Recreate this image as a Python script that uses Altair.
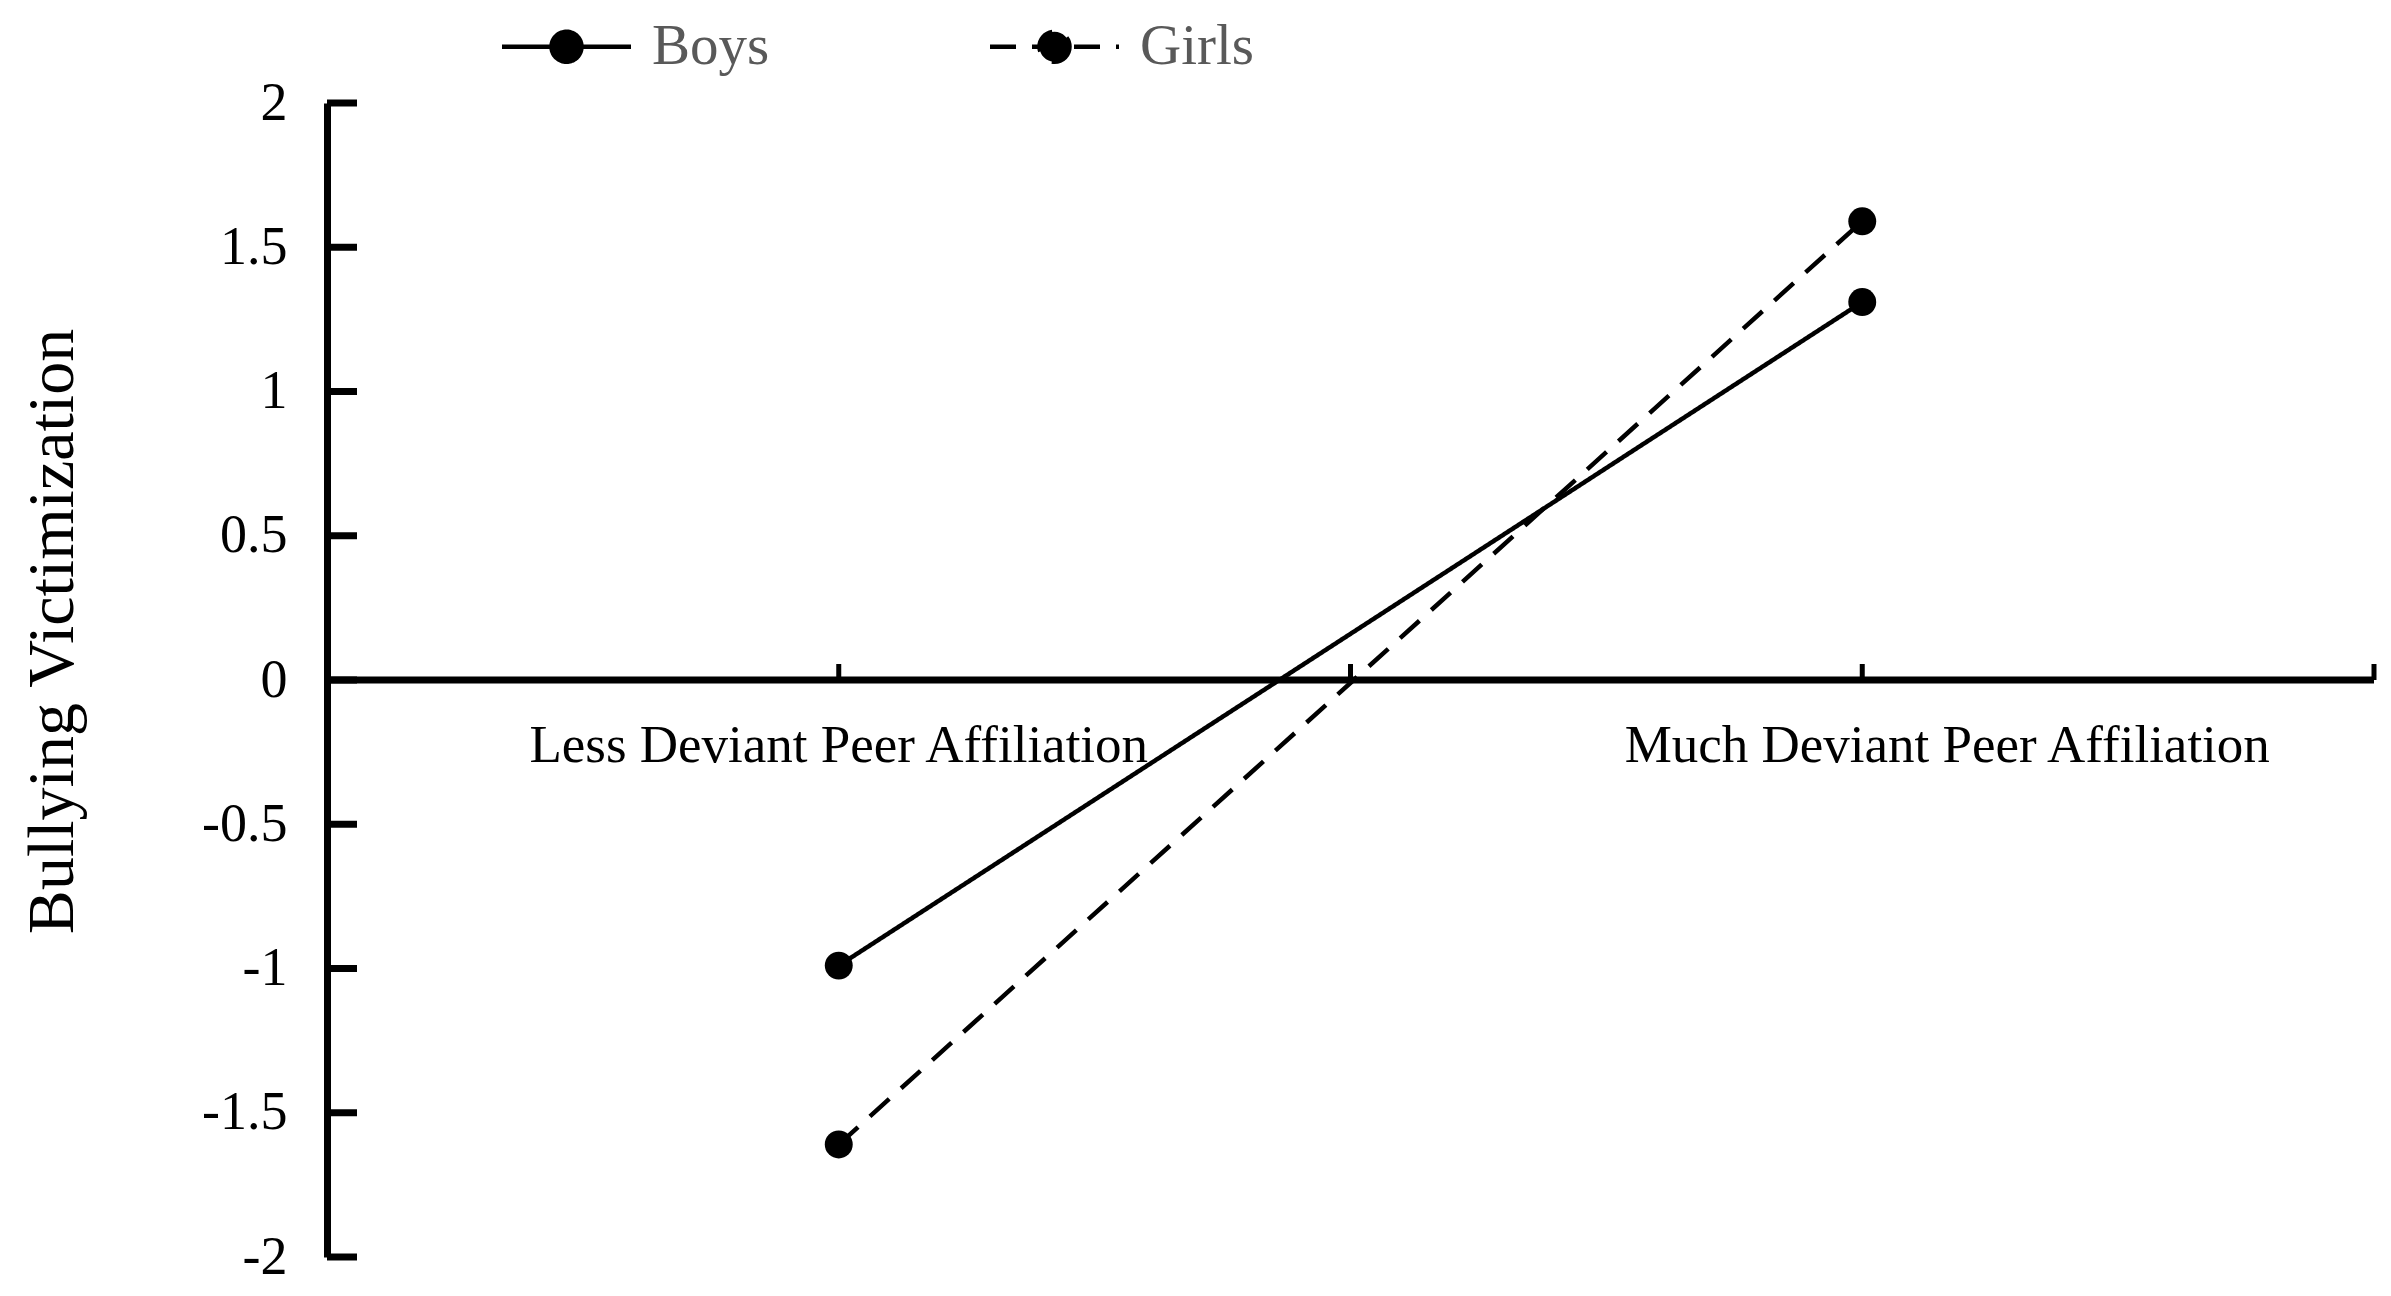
import altair as alt
import pandas as pd

# ---- data ----
categories = ["Less Deviant Peer Affiliation", "Much Deviant Peer Affiliation"]
cat_x = [1, 3]
boys = [-0.99, 1.31]
girls = [-1.61, 1.59]
y_ticks = [-2, -1.5, -1, -0.5, 0, 0.5, 1, 1.5, 2]
x_ticks = [1, 2, 3, 4]
groups = ["Boys", "Girls"]

FONT = "Liberation Serif"

rows = []
for g, vals in zip(groups, [boys, girls]):
    for c, xv, v in zip(categories, cat_x, vals):
        rows.append({"group": g, "category": c, "x": xv, "value": v})
df = pd.DataFrame(rows)

xscale = alt.Scale(domain=[0, 4], nice=False, zero=False)
yscale = alt.Scale(domain=[-2, 2], nice=False, zero=False)

# legend symbol: short line with a dot in its middle
legend_path = "M -4.3 0 L 4.3 0 M 1 0 A 1 1 0 1 1 -1 0 A 1 1 0 1 1 1 0 Z"

dash = alt.StrokeDash(
    "group:N",
    scale=alt.Scale(domain=groups, range=[[1, 0], [26, 16]]),
    legend=alt.Legend(
        orient="none", legendX=211, legendY=-85, direction="horizontal",
        title=None, symbolType=legend_path, symbolSize=900,
        symbolStrokeWidth=4.5, symbolStrokeColor="black", symbolFillColor="black",
        labelFont=FONT, labelFontSize=57, labelColor="#595959",
        labelOffset=57, columnPadding=211, padding=0,
    ),
)

yaxis = alt.Axis(
    values=y_ticks, grid=False, ticks=False, tickSize=0,
    domain=True, domainWidth=7, domainColor="black",
    labelFont=FONT, labelFontSize=54, labelColor="black", labelPadding=40,
    labelExpr="datum.value + ''",
    title="Bullying Victimization", titleFont=FONT, titleFontSize=66,
    titleFontWeight="normal", titleColor="black", titleX=-255, titleY=528,
    titleAngle=270, titleBaseline="alphabetic", titleAlign="center",
)

base = alt.Chart(df)

lines = base.mark_line(color="black", strokeWidth=4.5).encode(
    x=alt.X("x:Q", scale=xscale, axis=None),
    y=alt.Y("value:Q", scale=yscale, axis=yaxis),
    strokeDash=dash,
    detail="group:N",
)

points = base.mark_point(filled=True, color="black", size=780, opacity=1, shape="circle").encode(
    x=alt.X("x:Q", scale=xscale, axis=None),
    y=alt.Y("value:Q", scale=yscale),
)

# x axis line at y = 0
zero_line = alt.Chart(pd.DataFrame({"y": [0]})).mark_rule(color="black", strokeWidth=7).encode(
    y=alt.Y("y:Q", scale=yscale)
)

# y-axis inward ticks
ytick_marks = alt.Chart(pd.DataFrame({"t": y_ticks})).mark_rule(color="black", strokeWidth=7).encode(
    y=alt.Y("t:Q", scale=yscale),
    x=alt.value(0),
    x2=alt.value(30),
)

# x-axis inward ticks
xtick_marks = alt.Chart(pd.DataFrame({"t": x_ticks, "y": [0] * len(x_ticks)})).mark_tick(
    color="black", orient="vertical", size=16, thickness=5, yOffset=-8, opacity=1
).encode(
    x=alt.X("t:Q", scale=xscale, axis=None),
    y=alt.Y("y:Q", scale=yscale),
)

less_df = pd.DataFrame({"label": [categories[0]], "x": [cat_x[0]], "y": [0]})
much_df = pd.DataFrame({"label": [categories[1]], "x": [cat_x[1]], "y": [0]})
less_label = alt.Chart(less_df).mark_text(
    font=FONT, fontSize=53, color="black", align="center", baseline="alphabetic", dy=82
).encode(x=alt.X("x:Q", scale=xscale, axis=None), y=alt.Y("y:Q", scale=yscale), text="label:N")
much_label = alt.Chart(much_df).mark_text(
    font=FONT, fontSize=53, color="black", align="center", baseline="alphabetic", dy=82, dx=85
).encode(x=alt.X("x:Q", scale=xscale, axis=None), y=alt.Y("y:Q", scale=yscale), text="label:N")

chart = alt.layer(
    zero_line, ytick_marks, xtick_marks, less_label, much_label, lines, points
).properties(
    width=2047, height=1154,
    autosize=alt.AutoSizeParams(type="none"),
    padding={"left": 319, "top": 95, "right": 9, "bottom": 31},
    background="white",
).configure_view(stroke=None)

chart.save("out.html", embed_options={"renderer": "svg", "actions": False})
